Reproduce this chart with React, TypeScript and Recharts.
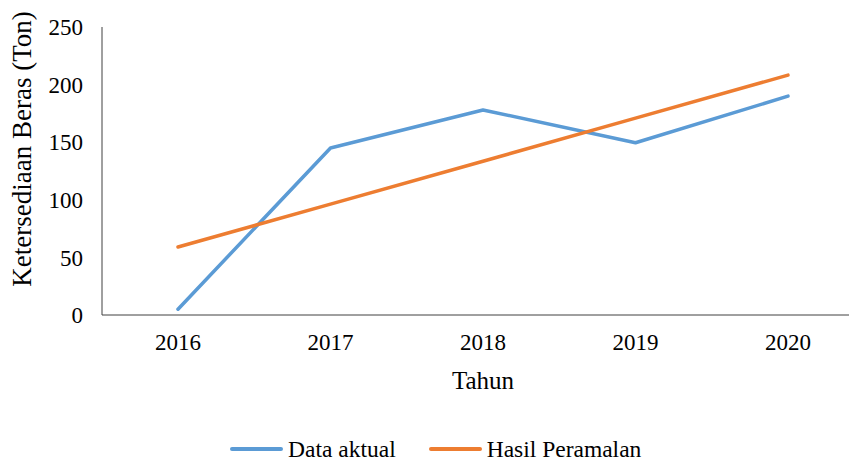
import React from "react";
import { LineChart, Line, XAxis, YAxis, Legend } from "recharts";

const years = ["2016", "2017", "2018", "2019", "2020"];
const dataAktual = [5, 145, 178, 149.5, 190];
const hasilPeramalan = [59, 96.2, 133.5, 170.9, 208.2];
const yTicks = [0, 50, 100, 150, 200, 250];

const BLUE = "#5B9BD5";
const ORANGE = "#ED7D31";
const FONT = "Liberation Serif, Times New Roman, DejaVu Serif, serif";

const chartData = years.map((year, i) => ({
  year,
  aktual: dataAktual[i],
  peramalan: hasilPeramalan[i],
}));

const legendItems = [
  { name: "Data aktual", color: BLUE },
  { name: "Hasil Peramalan", color: ORANGE },
];

function ChartLegend() {
  return (
    <div style={{ display: "flex", alignItems: "center", height: 22, paddingLeft: 230 }}>
      {legendItems.map((item, i) => (
        <div key={item.name} style={{ display: "flex", alignItems: "center", marginRight: i === 0 ? 33 : 0 }}>
          <span style={{ display: "inline-block", width: 53, height: 4, borderRadius: 2, background: item.color, marginRight: 5 }} />
          <span style={{ fontFamily: FONT, fontSize: 23.5, color: "#000", lineHeight: "22px", whiteSpace: "nowrap" }}>{item.name}</span>
        </div>
      ))}
    </div>
  );
}

export default function App() {
  return (
    <div style={{ position: "absolute", top: 0, left: 0, width: 849, height: 459, overflow: "hidden", background: "#fff" }}>
      <LineChart width={870} height={459} data={chartData} margin={{ top: 27, right: 6, left: 0, bottom: 0 }}>
        <XAxis
          dataKey="year"
          height={144}
          padding={{ left: 76, right: 76 }}
          stroke="#404040"
          tickLine={false}
          tickSize={19}
          tickMargin={0}
          tick={{ fill: "#000", fontSize: 23, fontFamily: FONT }}
          label={{
            content: (props: any) => {
              const vb = props.viewBox;
              return (
                <text x={vb.x + vb.width / 2} y={vb.y + 74} textAnchor="middle" style={{ fontFamily: FONT }} fontSize={25} fill="#000">
                  Tahun
                </text>
              );
            },
          }}
        />
        <YAxis
          width={102}
          domain={[0, 250]}
          ticks={yTicks}
          stroke="#404040"
          tickLine={false}
          tickSize={19}
          tickMargin={0}
          tick={{ fill: "#000", fontSize: 23, fontFamily: FONT }}
          label={{
            content: (props: any) => {
              const vb = props.viewBox;
              const cx = vb.x + 31;
              const cy = vb.y + vb.height / 2 - 22;
              return (
                <text x={cx} y={cy} transform={`rotate(-90 ${cx} ${cy})`} textAnchor="middle" style={{ fontFamily: FONT }} fontSize={27} fill="#000">
                  Ketersediaan Beras (Ton)
                </text>
              );
            },
          }}
        />
        <Legend
          layout="horizontal"
          verticalAlign="middle"
          align="center"
          wrapperStyle={{ top: 438, left: 0, width: 849, height: 22 }}
          content={() => <ChartLegend />}
        />
        <Line
          type="linear"
          dataKey="aktual"
          name="Data aktual"
          stroke={BLUE}
          strokeWidth={3.5}
          strokeLinecap="round"
          strokeLinejoin="round"
          dot={false}
          activeDot={false}
          isAnimationActive={false}
        />
        <Line
          type="linear"
          dataKey="peramalan"
          name="Hasil Peramalan"
          stroke={ORANGE}
          strokeWidth={3.5}
          strokeLinecap="round"
          strokeLinejoin="round"
          dot={false}
          activeDot={false}
          isAnimationActive={false}
        />
      </LineChart>
    </div>
  );
}
